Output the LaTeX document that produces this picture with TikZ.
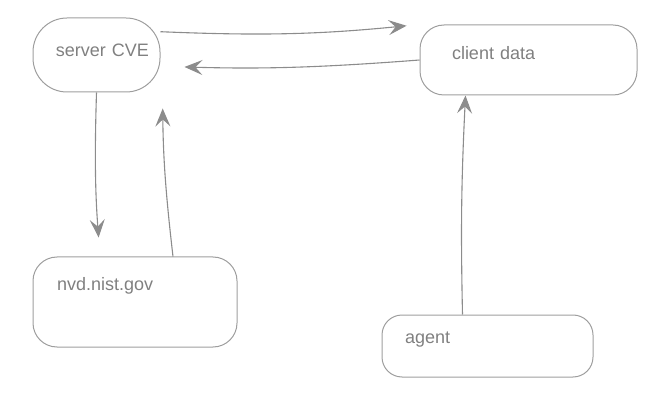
\documentclass[tikz,border=0pt]{standalone}
\usepackage{fontspec}
\setmainfont{Liberation Sans}
\usepackage{tikz}
\usetikzlibrary{arrows.meta,positioning}

\begin{document}
\begin{tikzpicture}[
    x=1pt, y=-1pt,
    box/.style={draw=black!38, line width=1pt, rounded corners=24pt, align=left, inner ysep=0pt, text=black!50, font=\fontsize{18}{22}\selectfont},
    link/.style={-{Stealth[length=18pt, width=15pt, inset=7pt]}, draw=black!45, line width=1.1pt}
]
\useasboundingbox (0,0) rectangle (648,414);

% Boxes
\node[box, rounded corners=34pt, text width=105pt, inner xsep=11pt, align=right, text height=39pt, text depth=35pt] (server) at (96.5,55) {server CVE};
\node[box, text width=153pt, inner xsep=32pt, text height=35pt, text depth=35pt] (client) at (528.5,60) {client data};
\node[box, text width=156pt, inner xsep=24pt, text height=33pt, text depth=57pt] (nvd) at (135,302) {nvd.nist.gov};
\node[box, rounded corners=20pt, text width=165pt, inner xsep=23pt, text height=28pt, text depth=34pt] (agent) at (487.5,346) {agent};

% server <-> client
\draw[link, shorten >=13pt] (server.20) to[bend right=4] (client.north west);
\draw[link, shorten >=24pt] (client.west) to[bend left=3] (server.-10);

% server <-> nvd
\draw[link, shorten >=19pt] (server.south) to[bend right=3] ([xshift=-35pt]nvd.north);
\draw[link, shorten >=16pt] ([xshift=38pt]nvd.north) to[bend left=3] ([xshift=66pt]server.south);

% agent -> client
\draw[link] ([xshift=-25pt]agent.north) to[bend left=2] ([xshift=-63pt]client.south);

\end{tikzpicture}
\end{document}
